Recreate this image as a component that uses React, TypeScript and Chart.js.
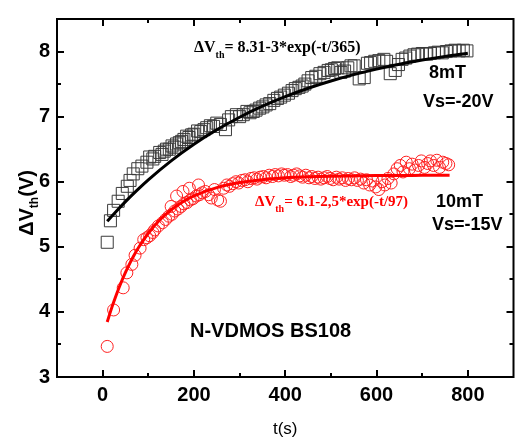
import React, { useEffect, useRef } from 'react';
import { Chart, registerables } from 'chart.js';

Chart.register(...registerables);

// ---- data ----
const blackT = [10, 17, 24, 34, 43, 54, 60, 67, 77, 86, 97, 103, 110, 114, 125, 130, 135, 140, 146, 152, 157, 162, 168, 173, 178, 184, 189, 195, 200, 208, 215, 222, 228, 236, 243, 250, 258, 269, 276, 282, 293, 300, 308, 316, 323, 330, 336, 344, 351, 358, 366, 375, 383, 390, 398, 407, 415, 422, 430, 437, 443, 450, 458, 467, 476, 485, 494, 501, 508, 515, 522, 530, 537, 544, 551, 562, 573, 580, 587, 596, 605, 616, 622, 630, 641, 648, 656, 664, 673, 682, 690, 700, 710, 718, 727, 735, 744, 753, 763, 772, 781, 790, 798];
const blackV = [5.07, 5.40, 5.56, 5.70, 5.82, 5.93, 6.02, 6.12, 6.20, 6.24, 6.30, 6.38, 6.35, 6.39, 6.45, 6.42, 6.47, 6.50, 6.50, 6.55, 6.53, 6.58, 6.60, 6.62, 6.65, 6.70, 6.68, 6.72, 6.73, 6.78, 6.77, 6.80, 6.83, 6.86, 6.85, 6.90, 6.88, 6.80, 6.95, 7.00, 7.03, 7.00, 7.03, 7.08, 7.06, 7.08, 7.10, 7.13, 7.15, 7.18, 7.20, 7.25, 7.28, 7.30, 7.33, 7.36, 7.40, 7.43, 7.45, 7.47, 7.50, 7.55, 7.60, 7.62, 7.66, 7.68, 7.71, 7.72, 7.74, 7.75, 7.68, 7.70, 7.75, 7.78, 7.78, 7.58, 7.60, 7.82, 7.83, 7.85, 7.86, 7.88, 7.85, 7.66, 7.71, 7.80, 7.88, 7.90, 7.93, 7.95, 7.96, 7.97, 7.96, 7.97, 7.98, 7.99, 7.98, 8.00, 8.01, 8.02, 8.01, 8.02, 8.01];

const redT = [10, 24, 45, 53, 64, 71, 82, 90, 97, 103, 110, 114, 122, 131, 138, 145, 150, 152, 158, 162, 165, 172, 176, 178, 185, 190, 192, 198, 205, 210, 212, 218, 225, 232, 238, 245, 252, 258, 265, 272, 278, 285, 292, 298, 305, 312, 318, 325, 332, 338, 345, 352, 358, 365, 372, 378, 385, 392, 398, 405, 412, 418, 425, 432, 438, 445, 452, 458, 465, 472, 478, 485, 492, 498, 505, 512, 518, 525, 532, 538, 545, 552, 558, 565, 572, 578, 585, 592, 598, 605, 612, 618, 625, 632, 638, 645, 652, 658, 665, 672, 678, 685, 692, 698, 705, 712, 718, 725, 732, 738, 745, 752, 758];
const redV = [3.47, 4.03, 4.37, 4.60, 4.73, 4.87, 4.98, 5.11, 5.14, 5.17, 5.22, 5.26, 5.32, 5.37, 5.42, 5.47, 5.62, 5.50, 5.55, 5.78, 5.58, 5.62, 5.85, 5.66, 5.68, 5.90, 5.72, 5.74, 5.78, 5.95, 5.80, 5.83, 5.85, 5.80, 5.75, 5.88, 5.72, 5.70, 5.90, 5.95, 5.93, 5.97, 6.00, 5.98, 6.02, 6.03, 6.00, 6.05, 6.06, 6.04, 6.07, 6.08, 6.06, 6.10, 6.08, 6.11, 6.09, 6.12, 6.10, 6.11, 6.08, 6.10, 6.12, 6.09, 6.07, 6.10, 6.06, 6.08, 6.05, 6.07, 6.04, 6.06, 6.08, 6.05, 6.03, 6.07, 6.04, 6.06, 6.02, 6.05, 6.03, 6.06, 6.02, 6.04, 5.98, 6.03, 5.95, 6.01, 5.92, 5.88, 6.00, 5.95, 6.05, 5.98, 6.12, 6.20, 6.25, 6.15, 6.30, 6.20, 6.27, 6.18, 6.25, 6.32, 6.22, 6.28, 6.32, 6.25, 6.33, 6.22, 6.30, 6.28, 6.26];

const blackFitT = [10, 25, 50, 75, 100, 150, 200, 250, 300, 350, 400, 450, 500, 550, 600, 650, 700, 750, 800];
const blackFitV = [5.391, 5.509, 5.694, 5.867, 6.029, 6.321, 6.576, 6.798, 6.991, 7.160, 7.307, 7.436, 7.548, 7.645, 7.730, 7.805, 7.869, 7.926, 7.975];

const redFitT = [10, 20, 30, 40, 50, 60, 70, 80, 100, 125, 150, 175, 200, 250, 300, 350, 400, 450, 500, 600, 700, 760];
const redFitV = [3.845, 4.066, 4.265, 4.444, 4.606, 4.754, 4.885, 5.004, 5.209, 5.411, 5.568, 5.689, 5.782, 5.910, 5.987, 6.032, 6.060, 6.076, 6.086, 6.095, 6.098, 6.099];

const xTicks = [0, 200, 400, 600, 800];
const xMinor = [100, 300, 500, 700];
const yTicks = [3, 4, 5, 6, 7, 8];
const yMinor = [3.5, 4.5, 5.5, 6.5, 7.5];

const blackFitLabel = '= 8.31-3*exp(-t/365)';
const redFitLabel = '= 6.1-2,5*exp(-t/97)';

const pts = (xs: number[], ys: number[]) => xs.map((x, i) => ({ x, y: ys[i] }));

const SANS = '"Liberation Sans", Arial, sans-serif';
const SERIF = '"Liberation Serif", "Times New Roman", serif';

const framePlugin = {
  id: 'frameTicks',
  afterDraw(chart: any) {
    const ctx = chart.ctx;
    const { left, right, top, bottom } = chart.chartArea;
    const xs = chart.scales.x;
    const ys = chart.scales.y;
    ctx.save();
    ctx.strokeStyle = '#000';
    ctx.lineWidth = 2;
    ctx.strokeRect(left, top, right - left, bottom - top);
    const tick = (len: number, vals: number[], horiz: boolean) => {
      ctx.beginPath();
      for (const v of vals) {
        if (horiz) {
          const p = Math.round(xs.getPixelForValue(v));
          ctx.moveTo(p, bottom); ctx.lineTo(p, bottom - len);
          ctx.moveTo(p, top); ctx.lineTo(p, top + len);
        } else {
          const p = Math.round(ys.getPixelForValue(v));
          ctx.moveTo(left, p); ctx.lineTo(left + len, p);
          ctx.moveTo(right, p); ctx.lineTo(right - len, p);
        }
      }
      ctx.stroke();
    };
    tick(7, xTicks, true);
    tick(4, xMinor, true);
    tick(7, yTicks.filter((v) => v > 3), false);
    tick(4, yMinor, false);

    ctx.textBaseline = 'alphabetic';
    ctx.textAlign = 'left';

    const sub = (x: number, y: number, color: string, size: number, rest: string) => {
      ctx.fillStyle = color;
      ctx.font = `bold ${size}px ${SERIF}`;
      ctx.fillText('\u0394V', x, y);
      let cx = x + ctx.measureText('\u0394V').width;
      ctx.font = `bold ${Math.round(size * 0.65)}px ${SERIF}`;
      ctx.fillText('th', cx, y + 6);
      cx += ctx.measureText('th').width;
      ctx.font = `bold ${size}px ${SERIF}`;
      ctx.fillText(rest, cx, y);
    };

    sub(194, 52, '#000', 16, blackFitLabel);
    sub(255, 206, '#ff0000', 15, redFitLabel);

    ctx.fillStyle = '#000';
    ctx.font = `bold 18px ${SANS}`;
    ctx.fillText('8mT', 429, 78);
    ctx.fillText('Vs=-20V', 423, 107);
    ctx.fillText('10mT', 436, 207);
    ctx.fillText('Vs=-15V', 432, 230);
    ctx.font = `bold 20px ${SANS}`;
    ctx.fillText('N-VDMOS BS108', 190, 337);

    ctx.font = `17px ${SANS}`;
    ctx.textAlign = 'center';
    ctx.fillText('t(s)', (left + right) / 2, 434);

    // y title, rotated
    ctx.save();
    ctx.translate(33, (top + bottom) / 2 + 5);
    ctx.rotate(-Math.PI / 2);
    ctx.textAlign = 'left';
    const mf = `bold 20px ${SANS}`;
    const sf = `bold 12px ${SANS}`;
    ctx.font = mf;
    const w1 = ctx.measureText('\u0394V').width;
    const w3 = ctx.measureText('(V)').width;
    ctx.font = sf;
    const w2 = ctx.measureText('th').width;
    let x0 = -(w1 + w2 + w3) / 2;
    ctx.font = mf;
    ctx.fillText('\u0394V', x0, 0);
    x0 += w1;
    ctx.font = sf;
    ctx.fillText('th', x0, 5);
    x0 += w2;
    ctx.font = mf;
    ctx.fillText('(V)', x0, 0);
    ctx.restore();

    ctx.restore();
  },
};

export default function App() {
  const ref = useRef<HTMLCanvasElement>(null);
  useEffect(() => {
    if (!ref.current) return;
    const chart = new Chart(ref.current, {
      type: 'scatter',
      data: {
        datasets: [
          {
            data: pts(blackFitT, blackFitV),
            showLine: true,
            borderColor: '#000',
            borderWidth: 3,
            pointRadius: 0,
            cubicInterpolationMode: 'monotone',
          } as any,
          {
            data: pts(redFitT, redFitV),
            showLine: true,
            borderColor: '#ff0000',
            borderWidth: 3,
            pointRadius: 0,
            cubicInterpolationMode: 'monotone',
          } as any,
          {
            data: pts(blackT, blackV),
            pointStyle: 'rect',
            pointRadius: 8.5,
            borderColor: '#3a3a3a',
            borderWidth: 1,
            backgroundColor: 'rgba(0,0,0,0)',
          },
          {
            data: pts(redT, redV),
            pointStyle: 'circle',
            pointRadius: 6,
            borderColor: '#ff2020',
            borderWidth: 1,
            backgroundColor: 'rgba(0,0,0,0)',
          },
        ],
      },
      options: {
        animation: false,
        responsive: false,
        devicePixelRatio: 1,
        layout: { padding: { top: 13, right: 3, left: 0, bottom: 0 } },
        plugins: { legend: { display: false }, tooltip: { enabled: false } },
        scales: {
          x: {
            type: 'linear',
            min: -100,
            max: 900,
            grid: { display: false, drawTicks: false },
            border: { display: false },
            afterBuildTicks: (s: any) => { s.ticks = xTicks.map((v) => ({ value: v })); },
            afterFit: (s: any) => { s.height = 64; },
            ticks: {
              padding: 6,
              color: '#000',
              maxRotation: 0,
              font: { family: SANS, size: 20, weight: 'bold' },
            },
          },
          y: {
            type: 'linear',
            min: 3,
            max: 8.5,
            grid: { display: false, drawTicks: false },
            border: { display: false },
            afterBuildTicks: (s: any) => { s.ticks = yTicks.map((v) => ({ value: v })); },
            afterFit: (s: any) => { s.width = 57; },
            ticks: {
              padding: 7,
              color: '#000',
              font: { family: SANS, size: 20, weight: 'bold' },
            },
          },
        },
      } as any,
      plugins: [framePlugin],
    });
    return () => chart.destroy();
  }, []);
  return (
    <div style={{ position: 'fixed', left: 0, top: 0, width: 523, height: 441, background: '#fff' }}>
      <canvas ref={ref} width={523} height={441} style={{ display: 'block' }} />
    </div>
  );
}
